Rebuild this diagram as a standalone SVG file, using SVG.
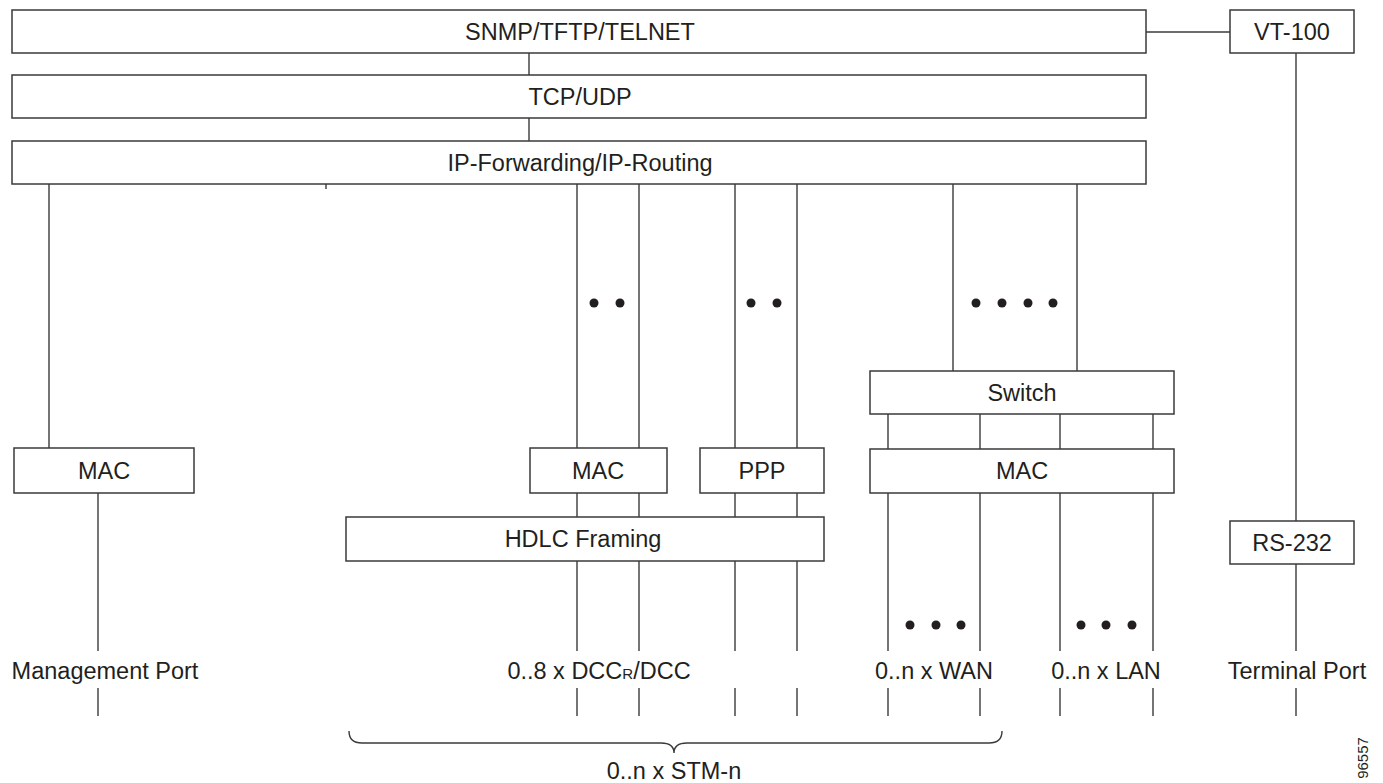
<svg xmlns="http://www.w3.org/2000/svg" width="1383" height="783" viewBox="0 0 1383 783">
  <style>
    .box { fill: #ffffff; stroke: #3a3a3a; stroke-width: 1.5; }
    .lbl { font-family: "Liberation Sans", Arial, Helvetica, sans-serif; font-size: 23.5px; fill: #231f20; text-anchor: middle; }
    .wire { stroke: #3a3a3a; stroke-width: 1.4; fill: none; }
    .dot { fill: #231f20; }
    .fig { font-family: "Liberation Sans", Arial, sans-serif; font-size: 15px; fill: #231f20; text-anchor: middle; }
  </style>
  <rect width="1383" height="783" fill="#ffffff"/>

  <!-- connectors -->
  <g id="connectors">
    <!-- protocol stack -->
    <line class="wire" x1="529" y1="53" x2="529" y2="75"/>
    <line class="wire" x1="529" y1="118" x2="529" y2="141"/>
    <line class="wire" x1="1146" y1="32" x2="1230" y2="32"/>
    <line class="wire" x1="326" y1="184" x2="326" y2="189"/>
    <!-- management port -->
    <line class="wire" x1="49" y1="184" x2="49" y2="448"/>
    <line class="wire" x1="98" y1="493" x2="98" y2="651"/>
    <line class="wire" x1="98" y1="688" x2="98" y2="716"/>
    <!-- DCC channels -->
    <line class="wire" x1="577" y1="184" x2="577" y2="448"/>
    <line class="wire" x1="639" y1="184" x2="639" y2="448"/>
    <line class="wire" x1="577" y1="493" x2="577" y2="517"/>
    <line class="wire" x1="639" y1="493" x2="639" y2="517"/>
    <line class="wire" x1="577" y1="561" x2="577" y2="651"/>
    <line class="wire" x1="639" y1="561" x2="639" y2="651"/>
    <line class="wire" x1="577" y1="688" x2="577" y2="716"/>
    <line class="wire" x1="639" y1="688" x2="639" y2="716"/>
    <!-- PPP channels -->
    <line class="wire" x1="735" y1="184" x2="735" y2="448"/>
    <line class="wire" x1="797" y1="184" x2="797" y2="448"/>
    <line class="wire" x1="735" y1="493" x2="735" y2="517"/>
    <line class="wire" x1="797" y1="493" x2="797" y2="517"/>
    <line class="wire" x1="735" y1="561" x2="735" y2="651"/>
    <line class="wire" x1="797" y1="561" x2="797" y2="651"/>
    <line class="wire" x1="735" y1="688" x2="735" y2="716"/>
    <line class="wire" x1="797" y1="688" x2="797" y2="716"/>
    <!-- switch uplinks -->
    <line class="wire" x1="953" y1="184" x2="953" y2="371"/>
    <line class="wire" x1="1077" y1="184" x2="1077" y2="371"/>
    <!-- switch to MAC -->
    <line class="wire" x1="888" y1="414" x2="888" y2="449"/>
    <line class="wire" x1="980" y1="414" x2="980" y2="449"/>
    <line class="wire" x1="1060" y1="414" x2="1060" y2="449"/>
    <line class="wire" x1="1153" y1="414" x2="1153" y2="449"/>
    <!-- WAN / LAN ports -->
    <line class="wire" x1="888" y1="493" x2="888" y2="651"/>
    <line class="wire" x1="980" y1="493" x2="980" y2="651"/>
    <line class="wire" x1="1060" y1="493" x2="1060" y2="651"/>
    <line class="wire" x1="1153" y1="493" x2="1153" y2="651"/>
    <line class="wire" x1="888" y1="688" x2="888" y2="716"/>
    <line class="wire" x1="980" y1="688" x2="980" y2="716"/>
    <line class="wire" x1="1060" y1="688" x2="1060" y2="716"/>
    <line class="wire" x1="1153" y1="688" x2="1153" y2="716"/>
    <!-- terminal -->
    <line class="wire" x1="1296" y1="53" x2="1296" y2="521"/>
    <line class="wire" x1="1296" y1="564" x2="1296" y2="651"/>
    <line class="wire" x1="1296" y1="688" x2="1296" y2="716"/>
    <!-- STM-n brace -->
    <path class="wire" d="M349,731 Q349,743 362,743 L661,743 Q674,743 674,753 Q674,743 687,743 L989,743 Q1002,743 1002,731"/>
  </g>

  <!-- ellipsis dots -->
  <g id="dots">
    <circle class="dot" cx="594" cy="303" r="4.5"/>
    <circle class="dot" cx="620" cy="303" r="4.5"/>
    <circle class="dot" cx="751" cy="303" r="4.5"/>
    <circle class="dot" cx="777" cy="303" r="4.5"/>
    <circle class="dot" cx="976" cy="303" r="4.5"/>
    <circle class="dot" cx="1002" cy="303" r="4.5"/>
    <circle class="dot" cx="1028" cy="303" r="4.5"/>
    <circle class="dot" cx="1053" cy="303" r="4.5"/>
    <circle class="dot" cx="910" cy="625" r="4.5"/>
    <circle class="dot" cx="936" cy="625" r="4.5"/>
    <circle class="dot" cx="961" cy="625" r="4.5"/>
    <circle class="dot" cx="1081" cy="625" r="4.5"/>
    <circle class="dot" cx="1106" cy="625" r="4.5"/>
    <circle class="dot" cx="1132" cy="625" r="4.5"/>
  </g>

  <g id="snmp">
    <rect class="box" x="12" y="10" width="1134" height="43"/>
    <text class="lbl" x="580" y="39.5">SNMP/TFTP/TELNET</text>
  </g>
  <g id="vt100">
    <rect class="box" x="1230" y="10" width="124" height="43"/>
    <text class="lbl" x="1292" y="39.5">VT-100</text>
  </g>
  <g id="tcpudp">
    <rect class="box" x="12" y="75" width="1134" height="43"/>
    <text class="lbl" x="580" y="104.5">TCP/UDP</text>
  </g>
  <g id="ip">
    <rect class="box" x="12" y="141" width="1134" height="43"/>
    <text class="lbl" x="580" y="170.5">IP-Forwarding/IP-Routing</text>
  </g>
  <g id="mac-mgmt">
    <rect class="box" x="14" y="448" width="180" height="45"/>
    <text class="lbl" x="104" y="479">MAC</text>
  </g>
  <g id="mac-dcc">
    <rect class="box" x="530" y="448" width="137" height="45"/>
    <text class="lbl" x="598" y="479">MAC</text>
  </g>
  <g id="ppp">
    <rect class="box" x="700" y="448" width="124" height="45"/>
    <text class="lbl" x="762" y="479">PPP</text>
  </g>
  <g id="hdlc">
    <rect class="box" x="346" y="517" width="478" height="44"/>
    <text class="lbl" x="583" y="547">HDLC Framing</text>
  </g>
  <g id="switch">
    <rect class="box" x="870" y="371" width="304" height="43"/>
    <text class="lbl" x="1022" y="401">Switch</text>
  </g>
  <g id="mac-wan-lan">
    <rect class="box" x="870" y="449" width="304" height="44"/>
    <text class="lbl" x="1022" y="479">MAC</text>
  </g>
  <g id="rs232">
    <rect class="box" x="1230" y="521" width="124" height="43"/>
    <text class="lbl" x="1292" y="551">RS-232</text>
  </g>

  <!-- port labels -->
  <g id="labels">
    <text class="lbl" x="105" y="679">Management Port</text>
    <text class="lbl" x="599" y="679">0..8 x DCC<tspan font-size="15">R</tspan>/DCC</text>
    <text class="lbl" x="934" y="679">0..n x WAN</text>
    <text class="lbl" x="1106" y="679">0..n x LAN</text>
    <text class="lbl" x="1297" y="679">Terminal Port</text>
    <text class="lbl" x="674" y="779">0..n x STM-n</text>
    <text class="fig" transform="translate(1368,758) rotate(-90)">96557</text>
  </g>
</svg>
